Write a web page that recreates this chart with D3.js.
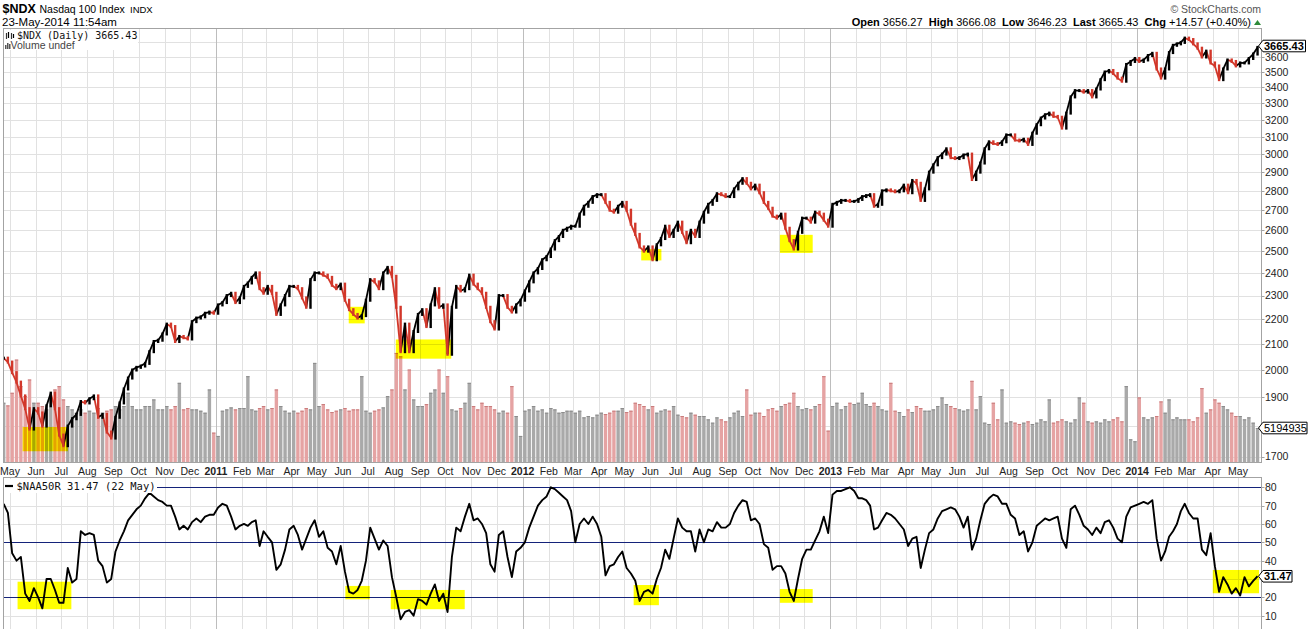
<!DOCTYPE html>
<html><head><meta charset="utf-8">
<script src="https://cdn.jsdelivr.net/npm/d3@7"></script>
<style>
body{margin:0;background:#fff;}
svg{display:block;font-family:"Liberation Sans",Arial,sans-serif;}
</style></head><body>
<svg id="c" width="1313" height="629"></svg>
<script>
const startMonth = "2010-04";
const firstSlot = 4;
const slotsPerMonth = 6;

const priceClose = [
 2045,2030,
 1990,1955,1905,1860,1790,1860, 1845,1800,1870,1915,1860,1770, 1735,1800,1825,1840,1885,1880,
 1895,1905,1830,1840,1780,1760, 1830,1880,1930,1970,2000,2010, 2015,2025,2070,2110,2115,2140,
 2180,2170,2110,2130,2125,2120, 2190,2205,2210,2225,2230,2225,
 2260,2270,2300,2310,2270,2290, 2340,2355,2380,2400,2330,2310, 2340,2310,2220,2260,2300,2340,
 2340,2330,2290,2250,2370,2400, 2400,2390,2380,2345,2330,2350, 2280,2240,2220,2205,2215,2280,
 2370,2360,2330,2400,2425,2385, 2250,2070,2180,2070,2150,2220, 2240,2170,2260,2330,2250,2260,
 2060,2250,2340,2320,2330,2390, 2350,2330,2310,2250,2190,2160, 2300,2300,2250,2230,2260,2280,
 2320,2360,2400,2420,2460,2475, 2510,2550,2570,2600,2610,2620, 2620,2680,2720,2740,2770,2780,
 2780,2740,2700,2690,2720,2740, 2700,2630,2580,2520,2500,2520, 2460,2530,2560,2620,2570,2600,
 2640,2590,2540,2600,2570,2640, 2690,2730,2750,2785,2780,2770, 2770,2810,2840,2865,2840,2810,
 2830,2790,2740,2710,2670,2660, 2680,2610,2550,2510,2590,2660, 2660,2640,2690,2680,2650,2620,
 2730,2740,2750,2750,2745,2745, 2755,2770,2775,2780,2720,2730, 2800,2805,2800,2795,2800,2830,
 2790,2855,2840,2750,2810,2900, 2940,2980,3000,3030,2980,2975, 2980,2995,3000,2860,2900,2950,
 3030,3070,3060,3055,3070,3110, 3110,3080,3075,3085,3055,3120, 3170,3210,3230,3240,3220,3215,
 3150,3240,3340,3380,3380,3370, 3380,3340,3390,3450,3500,3510, 3490,3460,3440,3550,3570,3590,
 3570,3580,3610,3625,3520,3460, 3520,3630,3680,3690,3700,3730, 3720,3690,3660,3600,3640,3560,
 3540,3450,3520,3580,3570,3540, 3560,3560,3590,3620,3665.43
];

const naa50r = [
 71,66,
 44,40,42,22,18,25, 20,14,30,30,24,17, 17,36,28,30,56,54,
 55,54,40,37,28,30, 45,51,56,62,65,68, 70,74,77,75,73,72,
 70,70,64,57,59,57, 61,63,61,64,65,65,
 69,71,70,64,57,59, 60,59,61,62,48,56, 53,50,35,38,46,57,
 59,54,46,52,58,62, 53,56,47,45,38,48, 34,23,22,24,29,40,
 58,52,46,51,48,31, 20,8,12,13,10,19, 18,16,22,27,18,22,
 12,42,58,56,64,71, 62,63,60,55,38,34, 54,56,42,31,45,47,
 50,58,64,70,73,75, 80,79,77,75,73,67, 50,60,63,60,64,60,
 53,32,37,38,42,45, 36,33,29,18,23,24, 22,30,36,46,41,52,
 63,58,56,56,45,57, 50,57,56,61,58,58, 60,66,70,73,72,62,
 63,60,49,47,35,37, 37,33,23,18,30,41, 46,46,51,56,64,55,
 76,78,78,79,80,78, 74,74,73,70,57,58, 62,66,65,63,60,57,
 48,52,53,36,46,55, 57,63,67,68,69,68, 64,58,64,46,52,62,
 71,74,76,75,71,71, 65,63,54,56,45,50, 59,61,63,62,63,64,
 52,47,68,70,65,59, 57,54,58,55,61,62, 58,52,50,64,69,70,
 71,72,71,73,52,40, 45,53,56,60,67,71, 66,63,63,46,43,55,
 37,23,31,27,22,25, 21,31,26,29,31.47
];

// volume in millions
const volume = [
 9.0,8.6,
 10.5,15.5,11.5,10.0,12.5,9.0, 9.0,8.5,8.0,9.5,11.0,11.5, 9.5,8.5,8.0,7.5,8.0,7.5,
 7.8,7.5,8.2,7.5,7.8,8.0, 8.5,8.0,8.5,10.5,8.5,8.0, 8.0,8.5,8.5,9.5,8.0,8.0,
 8.5,8.0,8.5,12.0,8.0,8.2, 8.0,8.0,7.8,7.5,11.0,4.5,
 4.0,7.8,8.0,8.3,8.0,8.2, 8.2,13.0,8.0,7.8,8.2,8.5, 8.0,8.2,11.0,8.5,7.8,7.5,
 7.8,7.5,7.8,8.2,8.0,15.0, 8.5,8.8,8.0,7.6,7.8,8.0, 8.2,7.8,8.0,8.0,13.0,7.8,
 7.5,7.8,8.0,8.3,10.0,11.0, 16.5,16.0,11.0,14.0,9.5,8.5, 8.5,8.8,10.5,11.0,14.0,10.5,
 13.0,8.0,7.8,8.2,9.0,12.0, 8.5,8.0,9.0,8.5,8.5,8.0, 7.5,7.8,7.5,11.5,7.0,4.0,
 7.8,8.0,8.5,7.8,8.0,7.5, 8.2,8.0,7.5,7.6,7.8,7.8, 7.5,7.8,6.8,7.0,6.8,7.2,
 7.5,7.3,7.5,7.8,7.8,8.2, 7.6,7.8,9.0,8.8,8.5,8.0, 8.5,7.5,7.8,8.0,7.8,8.5,
 7.2,7.0,6.8,7.5,7.2,7.0, 7.0,6.5,6.0,6.8,6.5,6.2, 6.8,7.5,7.8,7.0,11.0,7.2,
 7.5,7.5,7.0,8.0,8.2,7.8, 8.5,8.8,9.0,10.5,8.5,8.0, 8.2,8.0,8.5,8.8,13.0,4.8,
 8.5,9.0,8.0,8.5,9.0,8.8, 9.0,10.5,8.8,8.5,9.0,8.5, 8.0,7.8,12.0,7.8,7.6,7.0,
 8.0,7.6,8.5,8.2,7.8,7.8, 8.0,8.5,9.8,8.8,8.5,8.2, 8.0,7.8,8.0,12.3,8.0,10.0,
 6.0,5.8,9.0,6.5,11.0,6.0, 6.2,6.0,5.8,6.0,6.2,5.8, 6.0,6.5,6.2,9.5,6.0,6.2,
 6.5,6.2,6.0,6.5,9.8,9.0, 6.2,6.0,6.2,6.0,6.5,6.2, 6.5,6.8,6.2,11.5,3.5,3.2,
 9.8,6.8,6.5,6.8,7.0,9.2, 7.5,9.5,6.5,6.8,6.5,6.5, 6.5,6.2,6.8,11.2,7.5,8.0,
 9.5,9.0,8.5,8.0,7.5,7.0, 7.0,6.5,6.8,6.0,5.194935
];

const monthNames = ["Jan","Feb","Mar","Apr","May","Jun","Jul","Aug","Sep","Oct","Nov","Dec"];
const priceTicks = [1700,1800,1900,2000,2100,2200,2300,2400,2500,2600,2700,2800,2900,3000,3100,3200,3300,3400,3500,3600,3700];
const naaTicks = [10,20,30,40,50,60,70,80];
const naaRefLines = [20,50,80];

const priceHighlights = [
 {from:"2010-05-16", to:"2010-07-09", lo:1717, hi:1797},
 {from:"2011-06-08", to:"2011-06-27", lo:2183, hi:2252},
 {from:"2011-08-03", to:"2011-10-08", lo:2043, hi:2118},
 {from:"2012-05-21", to:"2012-06-14", lo:2457, hi:2510},
 {from:"2012-11-02", to:"2012-12-11", lo:2492, hi:2578}
];
const naaHighlights = [
 {from:"2010-05-10", to:"2010-07-13", lo:13.5, hi:28.5},
 {from:"2011-06-04", to:"2011-07-03", lo:18.9, hi:26.2},
 {from:"2011-07-28", to:"2011-10-24", lo:13.5, hi:24.0},
 {from:"2012-05-12", to:"2012-06-11", lo:15.7, hi:26.7},
 {from:"2012-11-02", to:"2012-12-11", lo:17.0, hi:24.5},
 {from:"2014-04-01", to:"2014-05-26", lo:22.2, hi:34.9}
];

const header = {open:"3656.27", high:"3666.08", low:"3646.23", last:"3665.43", chg:"+14.57 (+0.40%)"};

// ---- CHART ----
const W = 1313, H = 629;
const L = 3.5, R = 1261.5, mainTop = 28.5, mainBot = 462.5, indTop = 477.5;
const svg = d3.select("#c");
svg.append("rect").attr("width", W).attr("height", H).attr("fill", "#fff");

const parseM = d3.timeParse("%Y-%m");
const parseD = d3.timeParse("%Y-%m-%d");
const x = d3.scaleTime().domain([new Date(2010,4,1), new Date(2014,4,1)]).range([10, 1238]);
const yP = d3.scaleLog().domain([2000, 3600]).range([370, 57]);
const yV = d3.scaleLinear().domain([0, 10]).range([462.5, 396.1]);
const yN = d3.scaleLinear().domain([20, 80]).range([597.3, 487.3]);

const m0 = parseM(startMonth);
function sampleDate(i){
  const s = firstSlot + i;
  const ms = d3.timeMonth.offset(m0, Math.floor(s / slotsPerMonth));
  const me = d3.timeMonth.offset(ms, 1);
  return new Date(+ms + ((s % slotsPerMonth) + 0.5) / slotsPerMonth * (me - ms));
}
const dates = priceClose.map((_, i) => sampleDate(i));

const defs = svg.append("defs");
defs.append("clipPath").attr("id","cm").append("rect").attr("x",L).attr("y",mainTop).attr("width",R-L).attr("height",mainBot-mainTop);
defs.append("clipPath").attr("id","ci").append("rect").attr("x",L).attr("y",indTop).attr("width",R-L).attr("height",H-indTop+20);

const months = d3.timeMonth.range(new Date(2010,4,1), new Date(2014,5,1));
const gridCol = "#e1e1e1", yearCol = "#bdbdbd";

// Main panel grid
const gm = svg.append("g").attr("clip-path","url(#cm)");
gm.selectAll(".hp").data(priceTicks).join("line")
  .attr("x1",L).attr("x2",R).attr("y1",d=>Math.round(yP(d))+0.5).attr("y2",d=>Math.round(yP(d))+0.5)
  .attr("stroke",gridCol);
gm.selectAll(".vm").data(months).join("line")
  .attr("x1",d=>Math.round(x(d))+0.5).attr("x2",d=>Math.round(x(d))+0.5).attr("y1",mainTop).attr("y2",mainBot)
  .attr("stroke",d=>d.getMonth()===0?yearCol:gridCol);

// Volume bars
const bw = 3.4;
const upVol = "#a9a9a9", upVolTop = "#8c8c8c", dnVol = "#e5a3a3", dnVolTop = "#c97c7c";
const isDown = i => i > 0 && priceClose[i] < priceClose[i-1];
const vg = gm.append("g");
vg.selectAll("rect").data(volume).join("rect")
  .attr("x",(d,i)=>x(dates[i]) - bw/2).attr("width",bw)
  .attr("y",d=>yV(d)).attr("height",d=>yV(0)-yV(d))
  .attr("fill",(d,i)=>isDown(i)?dnVol:upVol);
vg.selectAll("line").data(volume).join("line")
  .attr("x1",(d,i)=>x(dates[i]) - bw/2).attr("x2",(d,i)=>x(dates[i]) + bw/2)
  .attr("y1",d=>yV(d)+0.5).attr("y2",d=>yV(d)+0.5)
  .attr("stroke",(d,i)=>isDown(i)?dnVolTop:upVolTop);

// Price highlights (multiply)
gm.selectAll(".ph").data(priceHighlights).join("rect")
  .attr("x",d=>x(parseD(d.from))).attr("width",d=>x(parseD(d.to))-x(parseD(d.from)))
  .attr("y",d=>yP(d.hi)).attr("height",d=>yP(d.lo)-yP(d.hi))
  .attr("fill","#ffff00").style("mix-blend-mode","multiply");

// Price: connecting segments + bars
const upCol = "#000", dnCol = "#d2372a";
const pg = gm.append("g");
pg.selectAll("line").data(priceClose.slice(1)).join("line")
  .attr("x1",(d,i)=>x(dates[i])).attr("y1",(d,i)=>yP(priceClose[i]))
  .attr("x2",(d,i)=>x(dates[i+1])).attr("y2",d=>yP(d))
  .attr("stroke",(d,i)=>isDown(i+1)?dnCol:upCol).attr("stroke-width",1.8);
const pw = 2.4;
pg.selectAll("rect").data(priceClose).join("rect")
  .attr("x",(d,i)=>x(dates[i]) - pw/2).attr("width",pw)
  .attr("y",(d,i)=>{const p = i>0?priceClose[i-1]:d; return yP(Math.max(p,d)) - 1.5;})
  .attr("height",(d,i)=>{const p = i>0?priceClose[i-1]:d; return Math.max(3, yP(Math.min(p,d)) - yP(Math.max(p,d)) + 3);})
  .attr("fill",(d,i)=>isDown(i)?dnCol:upCol);

// Main border
svg.append("rect").attr("x",L).attr("y",mainTop).attr("width",R-L).attr("height",mainBot-mainTop)
  .attr("fill","none").attr("stroke","#a3a3a3");

// Main legend
const lg = svg.append("g");
lg.append("rect").attr("x",4).attr("y",30).attr("width",134).attr("height",20).attr("fill","#fff");
[[6,33,39],[8,32,38],[11,33,39],[13,34,38]].forEach(([xx,a,b],k)=>{
  lg.append("line").attr("x1",xx+0.5).attr("x2",xx+0.5).attr("y1",a).attr("y2",b).attr("stroke",k%2?"#000":"#333").attr("stroke-width",1.2);
});
lg.append("text").attr("x",17).attr("y",38.5).attr("font-family","'DejaVu Sans Mono',monospace").attr("font-size",10)
  .attr("fill","#111").text("$NDX (Daily) " + header.last);
[[5,45],[7,43],[9,44]].forEach(([xx,t])=>{
  lg.append("rect").attr("x",xx).attr("y",t).attr("width",1.5).attr("height",49-t).attr("fill","#555");
});
lg.append("text").attr("x",10.5).attr("y",48.5).attr("font-size",10.5).attr("fill","#444").text("Volume undef");

// Indicator panel grid
const gi = svg.append("g").attr("clip-path","url(#ci)");
gi.selectAll(".hn").data(naaTicks).join("line")
  .attr("x1",L).attr("x2",R).attr("y1",d=>Math.round(yN(d))+0.5).attr("y2",d=>Math.round(yN(d))+0.5)
  .attr("stroke",gridCol);
gi.selectAll(".vn").data(months).join("line")
  .attr("x1",d=>Math.round(x(d))+0.5).attr("x2",d=>Math.round(x(d))+0.5).attr("y1",indTop).attr("y2",H)
  .attr("stroke",d=>d.getMonth()===0?yearCol:gridCol);
gi.selectAll(".nr").data(naaRefLines).join("line")
  .attr("x1",L).attr("x2",R).attr("y1",d=>Math.round(yN(d))+0.5).attr("y2",d=>Math.round(yN(d))+0.5)
  .attr("stroke","#14237a").attr("stroke-width",1.2);
gi.selectAll(".nh").data(naaHighlights).join("rect")
  .attr("x",d=>x(parseD(d.from))).attr("width",d=>x(parseD(d.to))-x(parseD(d.from)))
  .attr("y",d=>yN(d.hi)).attr("height",d=>yN(d.lo)-yN(d.hi))
  .attr("fill","#ffff00").style("mix-blend-mode","multiply");
gi.append("path").datum(naa50r)
  .attr("d", d3.line().x((d,i)=>x(dates[i])).y(d=>yN(d)))
  .attr("fill","none").attr("stroke","#000").attr("stroke-width",1.9).attr("stroke-linejoin","round");

svg.append("rect").attr("x",L).attr("y",indTop).attr("width",R-L).attr("height",H-indTop+10)
  .attr("fill","none").attr("stroke","#a3a3a3");

// Indicator legend
const il = svg.append("g");
il.append("rect").attr("x",4).attr("y",479).attr("width",153).attr("height",14).attr("fill","#fff");
il.append("line").attr("x1",5).attr("x2",13).attr("y1",486).attr("y2",486).attr("stroke","#000").attr("stroke-width",2.2);
il.append("text").attr("x",16.5).attr("y",490).attr("font-family","'DejaVu Sans Mono',monospace").attr("font-size",10.5)
  .attr("fill","#111").text("$NAA50R " + naa50r[naa50r.length-1] + " (22 May)");

// X axis labels
svg.append("g").selectAll("text").data(months).join("text")
  .attr("x",d=>x(d)).attr("y",474.5).attr("text-anchor","middle").attr("font-size",10.5)
  .attr("font-weight",d=>d.getMonth()===0?"bold":"normal").attr("fill","#222")
  .text(d=>d.getMonth()===0?d.getFullYear():monthNames[d.getMonth()]);

// Value marker positions (labels under a marker are hidden, as in the reference)
const lastP = priceClose[priceClose.length-1], lastV = volume[volume.length-1], lastN = naa50r[naa50r.length-1];
const mHalf = 5.8;
const pMarkY = yP(lastP) - 1.4;
const mainMarkers = [pMarkY, yV(lastV)];
const indMarkers = [yN(lastN)];
const free = (yy, list) => list.every(m => Math.abs(m - yy) > 8);

// Right axes
const ax = svg.append("g").attr("font-size",10.5).attr("fill","#222");
ax.selectAll(".pt").data(priceTicks.filter(t=>free(yP(t), mainMarkers))).join("text").attr("x",1265).attr("y",d=>yP(d)+3.9).text(d=>d);
ax.selectAll(".nt").data(naaTicks.filter(t=>free(yN(t), indMarkers))).join("text").attr("x",1265).attr("y",d=>yN(d)+3.9).text(d=>d);
svg.append("g").selectAll("line").data(priceTicks).join("line")
  .attr("x1",R).attr("x2",R+3).attr("y1",d=>Math.round(yP(d))+0.5).attr("y2",d=>Math.round(yP(d))+0.5).attr("stroke","#a3a3a3");
svg.append("g").selectAll("line").data(naaTicks).join("line")
  .attr("x1",R).attr("x2",R+3).attr("y1",d=>Math.round(yN(d))+0.5).attr("y2",d=>Math.round(yN(d))+0.5).attr("stroke","#a3a3a3");

// Value markers
function marker(yc, txt, right, bold){
  const g = svg.append("g");
  g.append("path").attr("d",`M${R-3},${yc} L${R+1.5},${yc-mHalf} L${right},${yc-mHalf} L${right},${yc+mHalf} L${R+1.5},${yc+mHalf} Z`)
   .attr("fill","#fff").attr("stroke","#000").attr("stroke-width",1);
  g.append("text").attr("x",R+2.5).attr("y",yc+3.9).attr("font-size",11).attr("font-weight",bold?"bold":"normal")
   .attr("fill","#000").text(txt);
}
marker(pMarkY, header.last, 1305.5, true);
marker(yV(lastV), d3.format("d")(Math.round(lastV*1e6)), 1307, false);
marker(yN(lastN), d3.format(".2f")(lastN), 1292, true);

// Header
const t1 = svg.append("text").attr("y",12.5).attr("fill","#000");
t1.append("tspan").attr("x",2.5).attr("font-size",12.5).attr("font-weight","bold").text("$NDX");
t1.append("tspan").attr("x",39.5).attr("font-size",10.5).text("Nasdaq 100 Index");
t1.append("tspan").attr("x",130).attr("font-size",9.5).text("INDX");
svg.append("text").attr("x",2).attr("y",26).attr("font-size",11.5).attr("fill","#000").text("23-May-2014 11:54am");
svg.append("text").attr("x",1261).attr("y",12.5).attr("text-anchor","end").attr("font-size",10.5).attr("fill","#555")
  .text("\u00A9 StockCharts.com");
const t2 = svg.append("text").attr("x",1251).attr("y",26).attr("text-anchor","end").attr("font-size",11).attr("fill","#000");
[["Open",header.open],["High",header.high],["Low",header.low],["Last",header.last],["Chg",header.chg]].forEach(([k,v],i)=>{
  t2.append("tspan").attr("font-weight","bold").text((i?"  ":"")+k+" ");
  t2.append("tspan").text(v);
});
t2.attr("xml:space","preserve").style("white-space","pre");
svg.append("path").attr("d","M1254,25 L1261,25 L1257.5,20 Z").attr("fill","#2e8b3a");
</script>
</body></html>
